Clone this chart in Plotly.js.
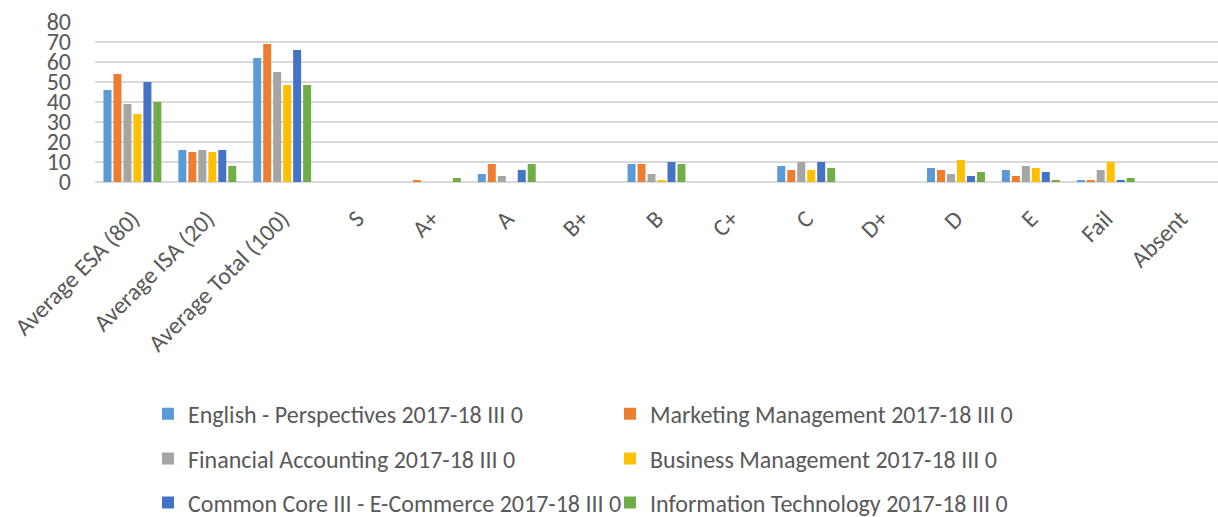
<!DOCTYPE html>
<html>
<head>
<meta charset="utf-8">
<script src="https://cdn.plot.ly/plotly-3.0.1.min.js"></script>
<style>
html,body{margin:0;padding:0;background:#fff;}
#chart{width:1218px;height:517px;}
</style>
</head>
<body>
<div id="chart"></div>
<script>
var categories = ["Average ESA (80)", "Average ISA (20)", "Average Total (100)", "S", "A+", "A", "B+", "B", "C+", "C", "D+", "D", "E", "Fail", "Absent"];

var seriesNames = [
  "English - Perspectives 2017-18 III 0",
  "Marketing Management 2017-18 III 0",
  "Financial Accounting 2017-18 III 0",
  "Business Management 2017-18 III 0",
  "Common Core III - E-Commerce 2017-18 III 0",
  "Information Technology 2017-18 III 0"
];

var english     = [46, 16, 62,   0, 0, 4, 0, 9,  0, 8,  0, 7,  6, 1,  0];
var marketing   = [54, 15, 69,   0, 1, 9, 0, 9,  0, 6,  0, 6,  3, 1,  0];
var financial   = [39, 16, 55,   0, 0, 3, 0, 4,  0, 10, 0, 4,  8, 6,  0];
var business    = [34, 15, 48.5, 0, 0, 0, 0, 1,  0, 6,  0, 11, 7, 10, 0];
var commonCore  = [50, 16, 66,   0, 0, 6, 0, 10, 0, 10, 0, 3,  5, 1,  0];
var infoTech    = [40, 8,  48.5, 0, 2, 9, 0, 9,  0, 7,  0, 5,  1, 2,  0];

var yTicks = [0, 10, 20, 30, 40, 50, 60, 70, 80];

var seriesValues = [english, marketing, financial, business, commonCore, infoTech];
var colors = ["#5B9BD5", "#ED7D31", "#A5A5A5", "#FFC000", "#4472C4", "#70AD47"];
var legendIds = ["legend", "legend", "legend2", "legend2", "legend3", "legend3"];

var FONT = "Carlito, Calibri, sans-serif";
var TXT = "#595959";

var traces = seriesValues.map(function (vals, i) {
  return {
    type: "bar",
    name: seriesNames[i],
    x: categories,
    y: vals,
    marker: {color: colors[i]},
    legend: legendIds[i],
    hoverinfo: "skip"
  };
});

function leg(yPos) {
  return {
    orientation: "h",
    xref: "container", yref: "container",
    x: 0.1215, xanchor: "left",
    y: yPos, yanchor: "middle",
    entrywidth: 417, entrywidthmode: "pixels",
    font: {family: FONT, size: 24, color: TXT},
    bgcolor: "rgba(0,0,0,0)",
    traceorder: "normal",
    itemclick: false, itemdoubleclick: false
  };
}

var layout = {
  width: 1218, height: 517,
  margin: {l: 95, r: 0, t: 22, b: 335},
  paper_bgcolor: "#ffffff",
  plot_bgcolor: "#ffffff",
  barmode: "group",
  bargap: 0.2,
  bargroupgap: 0.2,
  showlegend: true,
  font: {family: FONT, size: 24, color: TXT},
  xaxis: {
    type: "category",
    tickangle: -45,
    showgrid: false,
    showline: false,
    ticks: "",
    ticklabelstandoff: 17,
    tickfont: {family: FONT, size: 24, color: TXT},
    fixedrange: true
  },
  yaxis: {
    range: [0, 80],
    tickvals: yTicks,
    ticktext: yTicks.map(String),
    showgrid: true,
    gridcolor: "#D9D9D9",
    gridwidth: 1.5,
    zeroline: true,
    zerolinecolor: "#D9D9D9",
    zerolinewidth: 1.5,
    showline: false,
    ticks: "",
    ticklabelstandoff: 23,
    tickfont: {family: FONT, size: 24, color: TXT},
    fixedrange: true
  },
  legend: leg(0.199),
  legend2: leg(0.1122),
  legend3: leg(0.0271)
};

Plotly.newPlot("chart", traces, layout, {displayModeBar: false, staticPlot: true});
</script>
</body>
</html>
